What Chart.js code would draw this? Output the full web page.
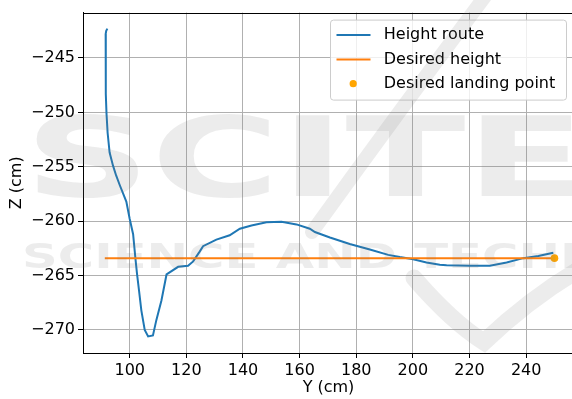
<!DOCTYPE html>
<html>
<head>
<meta charset="utf-8">
<script src="https://cdn.jsdelivr.net/npm/chart.js@4.4.1/dist/chart.umd.min.js"></script>
<style>
  html, body { margin: 0; padding: 0; background: #fff; overflow: hidden; }
  #wrap { width: 572px; height: 399px; overflow: hidden; position: relative; }
  canvas { display: block; }
</style>
</head>
<body>
<div id="wrap"><canvas id="c" width="580" height="399" style="width:580px;height:399px"></canvas></div>
<script>
// Measured flight path: horizontal position Y (cm) and height Z (cm)
const routeY = [92.1, 91.7, 91.5, 91.5, 91.6, 91.8, 92.2, 92.9, 94.1, 95.2, 96.5, 98.8, 100.0, 101.2,
  102.0, 102.6, 103.3, 104.1, 105.3, 106.5, 108.2, 109.4, 111.2, 113.0, 117.1, 120.6, 122.4, 124.7,
  125.9, 130.6, 135.3, 138.9, 143.0, 148.3, 153.6, 158.9, 163.6, 165.4, 170.7, 177.7, 184.8, 191.3,
  195.4, 200.1, 204.8, 209.5, 211.9, 220.1, 227.2, 233.1, 239.0, 244.3, 249.6];
const routeZ = [-242.3, -242.5, -242.8, -245.5, -248.3, -250.1, -251.9, -253.7, -254.9, -255.8, -256.7,
  -258.2, -259.8, -261.2, -263.4, -264.9, -266.4, -268.2, -270.0, -270.6, -270.5, -269.1, -267.3,
  -264.9, -264.2, -264.1, -263.7, -262.8, -262.3, -261.7, -261.3, -260.7, -260.4, -260.1, -260.05,
  -260.3, -260.7, -261.0, -261.5, -262.1, -262.6, -263.1, -263.3, -263.5, -263.8, -264.0, -264.05,
  -264.1, -264.1, -263.8, -263.4, -263.2, -262.9];

// Target height line and landing point
const desiredY = [91.2, 250.0];
const desiredZ = [-263.4, -263.4];
const landingY = [250.0];
const landingZ = [-263.4];

// Axis ticks
const xTicks = [100, 120, 140, 160, 180, 200, 220, 240];
const zTicks = [-270, -265, -260, -255, -250, -245];

const labels = ['Height route', 'Desired height', 'Desired landing point'];

const pts = (xs, ys) => xs.map((x, i) => ({ x: x, y: ys[i] }));
const FONT = '"DejaVu Sans", sans-serif';

// Frame line along the top of the plot area
const topSpine = {
  id: 'topSpine',
  afterDraw(chart) {
    const { ctx, chartArea: a } = chart;
    ctx.save();
    ctx.strokeStyle = '#000';
    ctx.lineWidth = 1;
    ctx.beginPath();
    ctx.moveTo(a.left, Math.round(a.top) + 0.5);
    ctx.lineTo(a.right, Math.round(a.top) + 0.5);
    ctx.stroke();
    ctx.restore();
  }
};

// Boxed legend in the upper right corner
const boxLegend = {
  id: 'boxLegend',
  afterDatasetsDraw(chart) {
    const { ctx, chartArea: a } = chart;
    const w = 236, h = 80;
    const x0 = a.right - 7.5 - w, y0 = a.top + 7.5;
    ctx.save();
    ctx.beginPath();
    ctx.roundRect(x0, y0, w, h, 3);
    ctx.fillStyle = 'rgba(255,255,255,0.8)';
    ctx.fill();
    ctx.strokeStyle = '#cccccc';
    ctx.lineWidth = 1;
    ctx.stroke();
    ctx.font = '16px ' + FONT;
    ctx.textBaseline = 'middle';
    chart.data.datasets.forEach((ds, i) => {
      const yy = y0 + 15 + i * 24.3;
      if (ds.showLine) {
        ctx.strokeStyle = ds.borderColor;
        ctx.lineWidth = 2;
        ctx.beginPath();
        ctx.moveTo(x0 + 6, yy);
        ctx.lineTo(x0 + 40, yy);
        ctx.stroke();
      } else {
        ctx.fillStyle = ds.backgroundColor;
        ctx.beginPath();
        ctx.arc(x0 + 22.7, yy, 3.6, 0, Math.PI * 2);
        ctx.fill();
      }
      ctx.fillStyle = '#000';
      ctx.fillText(ds.label, x0 + 53.3, yy);
    });
    ctx.restore();
  }
};

// Faint publisher watermark laid over the figure
const watermark = {
  id: 'watermark',
  afterDraw(chart) {
    const ctx = chart.ctx;
    const tint = 'rgba(120,120,120,0.14)';
    ctx.save();
    ctx.fillStyle = tint;
    ctx.strokeStyle = tint;
    ctx.textBaseline = 'alphabetic';
    ctx.save();
    ctx.translate(24, 196);
    ctx.scale(1.6, 1);
    ctx.font = 'bold 110px "DejaVu Sans", sans-serif';
    ctx.fillText('SCITEPRESS', 0, 0);
    ctx.restore();
    ctx.save();
    ctx.translate(22, 268);
    ctx.scale(1.46, 1);
    ctx.font = 'bold 34px "DejaVu Sans", sans-serif';
    ctx.fillText('SCIENCE AND TECHNOLOGY PUBLICATIONS', 0, 0);
    ctx.restore();
    ctx.lineCap = 'round';
    ctx.lineWidth = 14;
    ctx.beginPath();
    ctx.moveTo(486, -5);
    ctx.quadraticCurveTo(400, 110, 312, 232);
    ctx.stroke();
    ctx.lineWidth = 17;
    ctx.beginPath();
    ctx.moveTo(414, 278);
    ctx.quadraticCurveTo(452, 322, 484, 342);
    ctx.quadraticCurveTo(528, 300, 578, 270);
    ctx.stroke();
    ctx.restore();
  }
};

const tickFont = { family: FONT, size: 16 };

new Chart(document.getElementById('c'), {
  type: 'scatter',
  data: {
    datasets: [
      {
        label: labels[0],
        data: pts(routeY, routeZ),
        showLine: true,
        borderColor: '#1f77b4',
        backgroundColor: '#1f77b4',
        borderWidth: 2,
        pointRadius: 0,
        tension: 0,
        order: 3
      },
      {
        label: labels[1],
        data: pts(desiredY, desiredZ),
        showLine: true,
        borderColor: '#ff7f0e',
        backgroundColor: '#ff7f0e',
        borderWidth: 2,
        pointRadius: 0,
        order: 2
      },
      {
        label: labels[2],
        data: pts(landingY, landingZ),
        showLine: false,
        backgroundColor: '#ffa500',
        borderColor: '#ffa500',
        borderWidth: 0,
        pointRadius: 3.8,
        order: 1
      }
    ]
  },
  options: {
    responsive: false,
    animation: false,
    devicePixelRatio: 1,
    layout: { padding: { top: 8, right: 6, left: 0, bottom: 0 } },
    plugins: {
      legend: { display: false },
      tooltip: { enabled: false }
    },
    scales: {
      x: {
        type: 'linear',
        min: 83.5,
        max: 256.9,
        afterBuildTicks: s => { s.ticks = xTicks.map(v => ({ value: v })); },
        afterFit: s => { s.height = 46; },
        ticks: { font: tickFont, color: '#000', padding: 3, maxRotation: 0, autoSkip: false },
        grid: { color: '#b0b0b0', lineWidth: 1, tickLength: 5, tickColor: '#000', tickWidth: 1 },
        border: { display: true, color: '#000', width: 1 },
        title: { display: true, text: 'Y (cm)', font: { family: FONT, size: 16 }, color: '#000', padding: { top: 0, bottom: 1.5 } }
      },
      y: {
        type: 'linear',
        min: -272.12,
        max: -240.83,
        afterBuildTicks: s => { s.ticks = zTicks.map(v => ({ value: v })); },
        afterFit: s => { s.width = 83; },
        ticks: {
          font: tickFont, color: '#000', padding: 3, autoSkip: false,
          callback: v => String(v).replace('-', '\u2212')
        },
        grid: { color: '#b0b0b0', lineWidth: 1, tickLength: 5, tickColor: '#000', tickWidth: 1 },
        border: { display: true, color: '#000', width: 1 },
        title: { display: true, text: 'Z (cm)', font: { family: FONT, size: 16 }, color: '#000', padding: { top: 7, bottom: 0 } }
      }
    }
  },
  plugins: [topSpine, boxLegend, watermark]
});
</script>
</body>
</html>
